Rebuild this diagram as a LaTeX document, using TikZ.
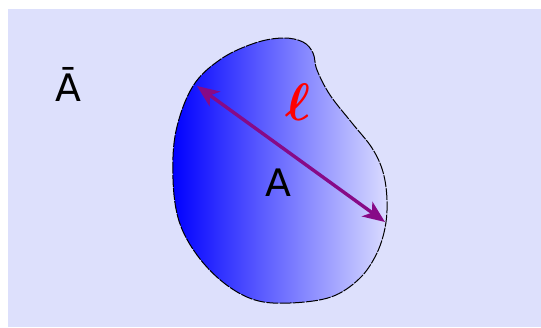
\documentclass[tikz,border=0pt]{standalone}
\usepackage{fontspec}
\usepackage{bm}
\setmainfont{DejaVu Sans}
\usetikzlibrary{arrows.meta}
\definecolor{bglav}{RGB}{221,224,252}
\definecolor{arrowpurple}{RGB}{135,10,135}
\definecolor{midblue}{RGB}{70,78,255}
\definecolor{lightend}{RGB}{218,220,255}
\begin{document}
\begin{tikzpicture}[x=1bp,y=-1bp,
  blobline/.style={draw=black, line width=1bp, dash pattern=on 12bp off 1.2bp},
  lbl/.style={inner sep=0pt, font=\fontsize{38}{40}\selectfont},
  diam/.style={draw=arrowpurple, line width=3.4bp, {Stealth[length=22bp,width=18bp,inset=6bp]}-{Stealth[length=22bp,width=18bp,inset=6bp]}}]
\useasboundingbox (0,0) rectangle (541,327);
\fill[white] (0,0) rectangle (541,327);
\fill[bglav] (8,9) rectangle (541,327);
\def\blob{plot[smooth cycle, tension=0.6] coordinates {(283,38) (303,42) (313,53) (317,70) (330,95) (352,123) (372,148) (383,172) (387,200) (385,228) (376,255) (359,279) (331,297) (290,303) (255,300) (224,283) (197,255) (179,221) (173,179) (176,131) (193,86) (221,59) (255,43)}}
\shade[left color=blue, middle color=midblue, right color=lightend] \blob;
\draw[blobline] \blob;
\coordinate (p) at (197,86);
\coordinate (q) at (385,222);
\draw[diam] (p) -- (q);
\node[inner sep=0pt, text=red, scale=5.3] (ell) at (298,102) {$\bm{\ell}$};
\node[lbl] (A) at (278,183) {A};
\node[lbl] (Abar) at (68,84) {Ā};
\end{tikzpicture}
\end{document}
